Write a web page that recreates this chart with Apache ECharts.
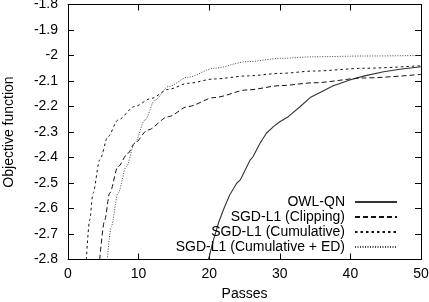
<!DOCTYPE html>
<html>
<head>
    <meta charset="UTF-8">
    <script src="https://cdn.jsdelivr.net/npm/echarts@6/dist/echarts.min.js"></script>
    <style>
        html, body { margin: 0; padding: 0; background: #fff; }
        #main { width: 429px; height: 302px; }
    </style>
</head>
<body>
    <div id="main"></div>
    <script>
        // 数据（从图上读出来的）
        var owlX = [19.9, 20.6, 21.3, 22.0, 22.9, 23.9, 24.4, 25.1, 25.8, 26.2, 27.2, 28.1, 29.1, 30.0, 31.2, 32.9, 34.3, 35.7, 37.5, 39.9, 42.0, 44.7, 47.0, 50];
        var owlY = [-2.8, -2.724, -2.658, -2.606, -2.547, -2.501, -2.488, -2.449, -2.41, -2.397, -2.344, -2.305, -2.279, -2.26, -2.24, -2.20, -2.165, -2.145, -2.12, -2.096, -2.08, -2.064, -2.054, -2.044];

        var clipX = [4.49, 5.2, 5.9, 7.08, 8.5, 9.44, 11.3, 14.2, 17.0, 20.7, 25.4, 30.2, 34.8, 42, 50];
        var clipY = [-2.8, -2.645, -2.54, -2.436, -2.383, -2.344, -2.292, -2.24, -2.20, -2.165, -2.135, -2.118, -2.107, -2.088, -2.074];

        var cumX = [2.6, 3.07, 3.54, 4.49, 5.67, 7.08, 9.44, 11.8, 14.2, 17.0, 20.7, 25.4, 30.2, 34.8, 42, 50];
        var cumY = [-2.8, -2.645, -2.54, -2.41, -2.318, -2.253, -2.20, -2.168, -2.133, -2.109, -2.092, -2.08, -2.07, -2.061, -2.05, -2.04];

        var edX = [5.57, 6.13, 7.08, 8.26, 9.44, 10.9, 12.3, 14.2, 17.0, 20.7, 25.4, 30.2, 34.8, 42, 50];
        var edY = [-2.8, -2.671, -2.54, -2.436, -2.344, -2.253, -2.175, -2.122, -2.085, -2.05, -2.024, -2.011, -2.005, -2.002, -2.0];

        var names = ['OWL-QN', 'SGD-L1 (Clipping)', 'SGD-L1 (Cumulative)', 'SGD-L1 (Cumulative + ED)'];

        function pairs(xs, ys) {
            var res = [];
            for (var i = 0; i < xs.length; i++) {
                res.push([xs[i], ys[i]]);
            }
            return res;
        }

        var font = 'Liberation Sans';
        var lineCol = '#000';

        var myChart = echarts.init(document.getElementById('main'), null, { renderer: 'canvas' });

        // 坐标轴公共样式 (gnuplot 风格: 四周边框, 刻度朝内)
        function xAx(pos, showLabel) {
            return {
                type: 'value', position: pos, min: 0, max: 50, interval: 10,
                name: showLabel ? 'Passes' : '',
                nameLocation: 'middle', nameGap: 28,
                nameTextStyle: { fontFamily: font, fontSize: 14, color: '#000' },
                axisLine: { show: true, onZero: false, lineStyle: { color: lineCol, width: 1 } },
                axisTick: { show: true, inside: true, length: 6, lineStyle: { color: lineCol } },
                axisLabel: { show: showLabel, margin: 8, fontFamily: font, fontSize: 14, color: '#000' },
                splitLine: { show: false }
            };
        }
        function yAx(pos, showLabel) {
            return {
                type: 'value', position: pos, min: -2.8, max: -1.8, interval: 0.1,
                name: showLabel ? 'Objective function' : '',
                nameLocation: 'middle', nameGap: 52,
                nameTextStyle: { fontFamily: font, fontSize: 14, color: '#000' },
                axisLine: { show: true, onZero: false, lineStyle: { color: lineCol, width: 1 } },
                axisTick: { show: true, inside: true, length: 6, lineStyle: { color: lineCol } },
                axisLabel: { show: showLabel, margin: 10, fontFamily: font, fontSize: 14, color: '#000' },
                splitLine: { show: false }
            };
        }

        function mkSeries(name, data, type, width, color) {
            return {
                name: name, type: 'line', xAxisIndex: 0, yAxisIndex: 0,
                data: data, symbol: 'none', showSymbol: false,
                smooth: 0.3, smoothMonotone: 'x', clip: true,
                lineStyle: { color: color, width: width, type: type },
                itemStyle: { color: color },
                animation: false
            };
        }

        var option = {
            animation: false,
            grid: { left: 68, right: 8, top: 4.5, bottom: 42.5, containLabel: false, outerBoundsMode: 'none' },
            legend: {
                data: names, orient: 'vertical', right: 26, top: 190,
                align: 'right', itemWidth: 42, itemHeight: 14, itemGap: 1,
                itemStyle: { opacity: 0 },
                textStyle: { fontFamily: font, fontSize: 14, color: '#000', padding: [0, 5, 0, 0] }
            },
            xAxis: [xAx('bottom', true), xAx('top', false)],
            yAxis: [yAx('left', true), yAx('right', false)],
            series: [
                Object.assign(mkSeries(names[0], pairs(owlX, owlY), 'solid', 1.1, '#333'), { smooth: false }),
                mkSeries(names[1], pairs(clipX, clipY), [5, 3], 1, '#111'),
                mkSeries(names[2], pairs(cumX, cumY), [2.5, 3], 1, '#111'),
                mkSeries(names[3], pairs(edX, edY), [1, 1.5], 1, '#444')
            ]
        };
        myChart.setOption(option);
    </script>
</body>
</html>
